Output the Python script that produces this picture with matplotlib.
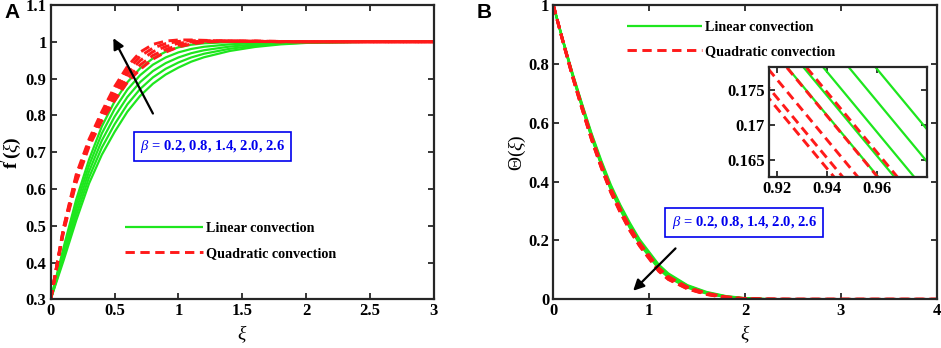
import matplotlib
matplotlib.use("Agg")
import matplotlib.pyplot as plt
import numpy as np

plt.rcParams['font.family'] = ['Liberation Serif', 'DejaVu Serif']
plt.rcParams['mathtext.fontset'] = 'custom'
plt.rcParams['mathtext.rm'] = 'Liberation Serif'
plt.rcParams['mathtext.it'] = 'Liberation Serif:italic'
plt.rcParams['mathtext.bf'] = 'Liberation Serif:bold'

# ---------------- data ----------------
betas = [0.2, 0.8, 1.4, 2.0, 2.6]
beta_label = r"$\beta$ = 0.2, 0.8, 1.4, 2.0, 2.6"

# Panel A: f'(xi)
xi_a = [0, 0.1, 0.2, 0.3, 0.4, 0.5, 0.6, 0.7, 0.8, 0.9, 1.0, 1.1, 1.2, 1.4, 1.6, 1.8, 2.0, 2.5, 3.0]
fp_linear = [
    [0.3, 0.405, 0.515, 0.615, 0.693, 0.755, 0.810, 0.853, 0.886, 0.911, 0.930, 0.946, 0.958, 0.975, 0.986, 0.993, 0.997, 1.0, 1.0],
    [0.3, 0.4138, 0.5293, 0.6313, 0.7123, 0.7758, 0.830, 0.8718, 0.9033, 0.9265, 0.9438, 0.9575, 0.9675, 0.981, 0.9895, 0.9948, 0.9978, 1.0, 1.0],
    [0.3, 0.4225, 0.5435, 0.6475, 0.7315, 0.7965, 0.850, 0.8905, 0.9205, 0.942, 0.9575, 0.969, 0.977, 0.987, 0.993, 0.9965, 0.9985, 1.0, 1.0],
    [0.3, 0.4313, 0.5578, 0.6638, 0.7508, 0.8173, 0.870, 0.9093, 0.9378, 0.9575, 0.9713, 0.9805, 0.9865, 0.993, 0.9965, 0.9983, 0.9993, 1.0, 1.0],
    [0.3, 0.440, 0.572, 0.680, 0.770, 0.838, 0.890, 0.928, 0.955, 0.973, 0.985, 0.992, 0.996, 0.999, 1.0, 1.0, 1.0, 1.0, 1.0],
]
fp_quadratic = [
    [0.3, 0.483, 0.618, 0.715, 0.785, 0.840, 0.890, 0.925, 0.953, 0.972, 0.986, 0.994, 0.999, 1.002, 1.002, 1.001, 1.0, 1.0, 1.0],
    [0.3, 0.486, 0.623, 0.720, 0.791, 0.850, 0.901, 0.937, 0.963, 0.979, 0.991, 0.997, 1.000, 1.002, 1.002, 1.001, 1.0, 1.0, 1.0],
    [0.3, 0.489, 0.629, 0.725, 0.798, 0.859, 0.912, 0.949, 0.973, 0.987, 0.996, 1.000, 1.002, 1.002, 1.0015, 1.0005, 1.0, 1.0, 1.0],
    [0.3, 0.492, 0.634, 0.730, 0.804, 0.869, 0.922, 0.961, 0.983, 0.995, 1.001, 1.003, 1.003, 1.002, 1.001, 1.0, 1.0, 1.0, 1.0],
    [0.3, 0.495, 0.640, 0.735, 0.810, 0.878, 0.933, 0.972, 0.993, 1.002, 1.005, 1.005, 1.004, 1.002, 1.001, 1.0, 1.0, 1.0, 1.0],
]

# Panel B: Theta(xi)
xi_b = [0, 0.1, 0.2, 0.3, 0.4, 0.5, 0.6, 0.7, 0.8, 0.9, 1.0, 1.1, 1.2, 1.4, 1.6, 1.8, 2.0, 2.2, 2.5, 3.0, 3.5, 4.0]
th_linear = [
    [1.0, 0.882, 0.769, 0.664, 0.563, 0.472, 0.389, 0.320, 0.259, 0.2038, 0.1608, 0.118, 0.088, 0.048, 0.025, 0.011, 0.004, 0.001, 0, 0, 0, 0],
    [1.0, 0.881, 0.767, 0.661, 0.559, 0.467, 0.384, 0.315, 0.254, 0.1992, 0.1562, 0.114, 0.084, 0.046, 0.023, 0.010, 0.003, 0.001, 0, 0, 0, 0],
    [1.0, 0.8795, 0.7642, 0.6573, 0.5547, 0.4626, 0.3791, 0.3101, 0.2489, 0.1948, 0.1518, 0.1094, 0.0802, 0.0431, 0.0217, 0.009, 0.0029, 0.0008, 0, 0, 0, 0],
    [1.0, 0.8785, 0.7624, 0.6547, 0.5514, 0.4589, 0.3752, 0.3063, 0.2450, 0.1914, 0.1484, 0.1060, 0.0771, 0.0412, 0.0204, 0.0083, 0.0025, 0.0007, 0, 0, 0, 0],
    [1.0, 0.8776, 0.7608, 0.6525, 0.5487, 0.4558, 0.3720, 0.3030, 0.2417, 0.1886, 0.1456, 0.1032, 0.0746, 0.0396, 0.0193, 0.0076, 0.0021, 0.0006, 0, 0, 0, 0],
]
th_quadratic = [
    [1.0, 0.8786, 0.7626, 0.6551, 0.5519, 0.4594, 0.3758, 0.3069, 0.2456, 0.1919, 0.1489, 0.1066, 0.0776, 0.0415, 0.0206, 0.0084, 0.0026, 0.0007, 0, 0, 0, 0],
    [1.0, 0.8776, 0.7607, 0.6524, 0.5485, 0.4556, 0.3718, 0.3028, 0.2415, 0.1885, 0.1455, 0.1031, 0.0744, 0.0396, 0.0193, 0.0076, 0.0021, 0.0006, 0, 0, 0, 0],
    [1.0, 0.8766, 0.7588, 0.6496, 0.5451, 0.4518, 0.3678, 0.2988, 0.2374, 0.1851, 0.1421, 0.0996, 0.0713, 0.0376, 0.0179, 0.0068, 0.0017, 0.0005, 0, 0, 0, 0],
    [1.0, 0.8758, 0.7573, 0.6475, 0.5425, 0.4488, 0.3647, 0.2957, 0.2343, 0.1825, 0.1395, 0.0969, 0.0688, 0.0361, 0.0169, 0.0062, 0.0013, 0.0004, 0, 0, 0, 0],
    [1.0, 0.8753, 0.7564, 0.6463, 0.5410, 0.4471, 0.3629, 0.2939, 0.2324, 0.1810, 0.1380, 0.0953, 0.0674, 0.0352, 0.0163, 0.0058, 0.0011, 0.0003, 0, 0, 0, 0],
]

a_xticks = [0, 0.5, 1, 1.5, 2, 2.5, 3]
a_xticklabels = ["0", "0.5", "1", "1.5", "2", "2.5", "3"]
a_yticks = [0.3, 0.4, 0.5, 0.6, 0.7, 0.8, 0.9, 1.0, 1.1]
a_yticklabels = ["0.3", "0.4", "0.5", "0.6", "0.7", "0.8", "0.9", "1", "1.1"]
b_xticks = [0, 1, 2, 3, 4]
b_xticklabels = ["0", "1", "2", "3", "4"]
b_yticks = [0, 0.2, 0.4, 0.6, 0.8, 1.0]
b_yticklabels = ["0", "0.2", "0.4", "0.6", "0.8", "1"]
in_xticks = [0.92, 0.94, 0.96]
in_xticklabels = ["0.92", "0.94", "0.96"]
in_yticks = [0.165, 0.17, 0.175]
in_yticklabels = ["0.165", "0.17", "0.175"]

# ---------------- style ----------------
GREEN = '#1ee61e'
RED = '#ff1a1a'
AXC = '#262626'
TICKFS = 12
LW_G = 1.6
LW_R = 2.1
DASH = (3.2, 1.9)
LEGFS = 10.2

fig = plt.figure(figsize=(9.41, 3.48), dpi=100)

def style_axes(ax, fs=TICKFS):
    for s in ax.spines.values():
        s.set_linewidth(1.6)
        s.set_color(AXC)
    ax.tick_params(direction='in', top=True, right=True, length=4, width=1.3,
                   colors=AXC, labelsize=fs, pad=3)
    for lab in ax.get_xticklabels() + ax.get_yticklabels():
        lab.set_fontweight('bold')
        lab.set_color('black')

def draw_curves(ax, x, lin, quad):
    hl = hq = None
    for ys in lin:
        hl, = ax.plot(x, ys, color=GREEN, lw=LW_G, solid_capstyle='butt')
    for ys in quad:
        hq, = ax.plot(x, ys, color=RED, lw=LW_R, ls=(0, DASH), dash_capstyle='butt')
    return hl, hq

# ---- Panel A ----
axA = fig.add_axes([0.0539, 0.1399, 0.4073, 0.8457])
hl, hq = draw_curves(axA, xi_a, fp_linear, fp_quadratic)
axA.set_xlim(0, 3)
axA.set_ylim(0.3, 1.1)
axA.set_xticks(a_xticks)
axA.set_xticklabels(a_xticklabels)
axA.set_yticks(a_yticks)
axA.set_yticklabels(a_yticklabels)
style_axes(axA)
axA.set_xlabel(r"$\xi$", fontsize=14, labelpad=3)
axA.set_ylabel(r"f$^{\prime}$($\xi$)", fontsize=14, labelpad=1, fontweight='bold')
axA.legend([hl, hq], ["Linear convection", "Quadratic convection"],
           loc='upper left', bbox_to_anchor=(0.18, 0.283), frameon=False,
           prop={'weight': 'bold', 'size': LEGFS}, handlelength=5.5,
           handletextpad=0.2, labelspacing=0.85, borderaxespad=0)
axA.text(0.422, 0.52, beta_label, transform=axA.transAxes, fontsize=10.5,
         fontweight='bold', color='#0000ee', ha='center', va='center',
         bbox=dict(boxstyle='square,pad=0.42', fc='white', ec='#0000ee', lw=1.2))
axA.annotate("", xy=(0.49, 1.01), xytext=(0.8, 0.805),
             arrowprops=dict(arrowstyle='-|>', color='black', lw=1.6,
                             mutation_scale=16, shrinkA=0, shrinkB=0))

# ---- Panel B ----
axB = fig.add_axes([0.588, 0.1399, 0.4074, 0.8457])
hl2, hq2 = draw_curves(axB, xi_b, th_linear, th_quadratic)
axB.set_xlim(0, 4)
axB.set_ylim(0, 1)
axB.set_xticks(b_xticks)
axB.set_xticklabels(b_xticklabels)
axB.set_yticks(b_yticks)
axB.set_yticklabels(b_yticklabels)
style_axes(axB)
axB.set_xlabel(r"$\xi$", fontsize=14, labelpad=3)
axB.set_ylabel(r"$\Theta$($\xi$)", fontsize=14, labelpad=0)
axB.legend([hl2, hq2], ["Linear convection", "Quadratic convection"],
           loc='upper left', bbox_to_anchor=(0.177, 0.965), frameon=False,
           prop={'weight': 'bold', 'size': LEGFS}, handlelength=5.3,
           handletextpad=0.2, labelspacing=0.8, borderaxespad=0)
axB.text(0.498, 0.26, beta_label, transform=axB.transAxes, fontsize=10.5,
         fontweight='bold', color='#0000ee', ha='center', va='center',
         bbox=dict(boxstyle='square,pad=0.42', fc='white', ec='#0000ee', lw=1.2))
axB.annotate("", xy=(0.833, 0.029), xytext=(1.275, 0.173),
             arrowprops=dict(arrowstyle='-|>', color='black', lw=1.6,
                             mutation_scale=16, shrinkA=0, shrinkB=0))

# ---- Inset ----
axI = fig.add_axes([0.8175, 0.4905, 0.1673, 0.3161])
draw_curves(axI, xi_b, th_linear, th_quadratic)
axI.set_xlim(0.917, 0.98)
axI.set_ylim(0.1625, 0.1782)
axI.set_xticks(in_xticks)
axI.set_xticklabels(in_xticklabels)
axI.set_yticks(in_yticks)
axI.set_yticklabels(in_yticklabels)
style_axes(axI)

# panel letters
fig.text(0.005, 0.99, "A", fontsize=15, fontweight='bold', family='Liberation Sans', va='top')
fig.text(0.507, 0.99, "B", fontsize=15, fontweight='bold', family='Liberation Sans', va='top')

fig.savefig("out.png", dpi=100)
